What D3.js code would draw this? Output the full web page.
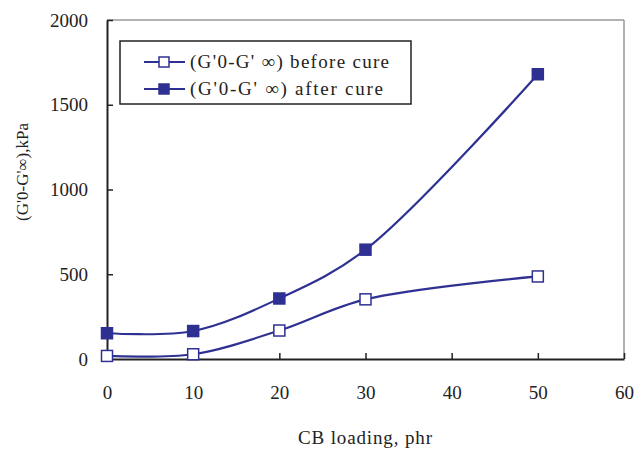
<!DOCTYPE html>
<html><head><meta charset="utf-8">
<script src="https://cdn.jsdelivr.net/npm/d3@7"></script>
<style>body{margin:0;background:#fff}svg{display:block}
svg text{font-family:'Liberation Serif','Tinos','Times New Roman',Times,'DejaVu Serif','Noto Serif',serif !important;fill:#222}</style>
</head><body><svg id="c" width="637" height="452"></svg>
<script>
const loading = [0, 10, 20, 30, 50];
const beforeCure = [18, 28, 168, 352, 487];
const afterCure = [152, 165, 357, 645, 1680];
const xTicks = [0, 10, 20, 30, 40, 50, 60];
const yTicks = [0, 500, 1000, 1500, 2000];
const seriesNames = ["(G'0-G' \u221E) before cure", "(G'0-G' \u221E) after  cure"];

const svg = d3.select("#c");
const L = 107, R = 624, T = 20, B = 359;
const x = d3.scaleLinear().domain([0, 60]).range([L, R]);
const y = d3.scaleLinear().domain([0, 2000]).range([B, T]);
const blue = "#2E3192";

svg.append("line").attr("x1", L).attr("x2", R).attr("y1", T).attr("y2", T).attr("stroke", "#999").attr("stroke-width", 1.5);
svg.append("line").attr("x1", R).attr("x2", R).attr("y1", T).attr("y2", B).attr("stroke", "#999").attr("stroke-width", 1.5);

const xa = svg.append("g").attr("transform", `translate(0,${B})`)
  .call(d3.axisBottom(x).tickValues(xTicks).tickFormat(d3.format("d")).tickSizeInner(-6).tickSizeOuter(0).tickPadding(27));
const ya = svg.append("g").attr("transform", `translate(${L},0)`)
  .call(d3.axisLeft(y).tickValues(yTicks).tickFormat(d3.format("d")).tickSizeInner(-6).tickSizeOuter(0).tickPadding(19));
[xa, ya].forEach(a => {
  a.attr("font-family", null).attr("font-size", null);
  a.select(".domain").attr("stroke", "#222").attr("stroke-width", 2);
  a.selectAll(".tick line").attr("stroke", "#222").attr("stroke-width", 1.5);
  a.selectAll("text").style("font-size", "19px").attr("fill", "#222");
});

const line = d3.line().x(d => x(d[0])).y(d => y(d[1])).curve(d3.curveCatmullRom.alpha(0.5));
const sets = [beforeCure, afterCure];
sets.forEach((vals, i) => {
  const pts = loading.map((l, j) => [l, vals[j]]);
  svg.append("path").datum(pts).attr("d", line).attr("fill", "none").attr("stroke", blue).attr("stroke-width", 2.2);
  svg.selectAll(null).data(pts).enter().append("rect")
    .attr("x", d => x(d[0]) - 5.5).attr("y", d => y(d[1]) - 5.5).attr("width", 11).attr("height", 11)
    .attr("fill", i === 0 ? "#fff" : blue).attr("stroke", blue).attr("stroke-width", 1.5);
});

svg.append("rect").attr("x", 120).attr("y", 41).attr("width", 291).attr("height", 63)
  .attr("fill", "#fff").attr("stroke", "#222").attr("stroke-width", 1.5);
const legW = [199, 193];
seriesNames.forEach((n, i) => {
  const ly = 62 + i * 27;
  svg.append("line").attr("x1", 144).attr("x2", 185).attr("y1", ly).attr("y2", ly).attr("stroke", blue).attr("stroke-width", 2.2);
  svg.append("rect").attr("x", 159).attr("y", ly - 5).attr("width", 10).attr("height", 10)
    .attr("fill", i === 0 ? "#fff" : blue).attr("stroke", blue).attr("stroke-width", 1.5);
  svg.append("text").attr("x", 190).attr("y", ly + 6).style("font-size", "19px")
    .attr("textLength", legW[i]).attr("lengthAdjust", "spacing").text(n);
});

svg.append("text").attr("x", 365).attr("y", 444).attr("text-anchor", "middle").style("font-size", "19px")
  .attr("textLength", 134).attr("lengthAdjust", "spacing").text("CB loading, phr");
svg.append("text").attr("transform", "translate(28,172) rotate(-90)").attr("text-anchor", "middle").style("font-size", "17px").text("(G'0-G'\u221E),kPa");
</script></body></html>
